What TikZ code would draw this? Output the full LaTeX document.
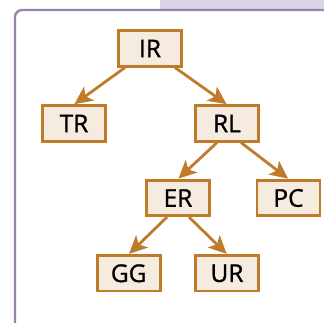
\documentclass[tikz,border=0pt]{standalone}
\usepackage{fontspec}
\setmainfont{Open Sans}
\newfontfamily\boxfont{Open Sans}[RawFeature={embolden=1}]
\usetikzlibrary{arrows.meta}
\definecolor{framepurple}{HTML}{9A82B0}
\definecolor{tabpurple}{HTML}{DDD1E6}
\definecolor{boxedge}{HTML}{BF7A2A}
\definecolor{boxfill}{HTML}{F5EBDF}
\tikzset{
  treebox/.style={draw=boxedge, fill=boxfill, line width=2.6pt,
    minimum width=63pt, minimum height=35.5pt, inner sep=0pt,
    font=\boxfont\fontsize{24.5}{28}\selectfont},
  treearrow/.style={draw=boxedge, line width=2.8pt, shorten >=0.5pt,
    -{Stealth[length=18pt,width=17pt,inset=4.5pt]}}
}
\begin{document}
\begin{tikzpicture}[x=1pt,y=-1pt]
\useasboundingbox (0,0) rectangle (324,322);
% tab and panel frame
\fill[tabpurple] (160,0) rectangle (324,9);
\begin{scope}
\clip (0,0) rectangle (324,322);
\draw[framepurple, line width=2.4pt, rounded corners=7pt] (15,340) -- (15,10) -- (340,10);
\end{scope}
% tree nodes
\node[treebox] (IR) at (150,48.5) {IR};
\node[treebox] (TR) at (74,123.5) {TR};
\node[treebox] (RL) at (227,123.5) {RL};
\node[treebox] (ER) at (178,198) {ER};
\node[treebox] (PC) at (288.5,198) {PC};
\node[treebox] (GG) at (128.7,273.3) {GG};
\node[treebox] (UR) at (227,273.3) {UR};
% connectors
\draw[treearrow] ([xshift=-25pt]IR.south) -- (TR.north);
\draw[treearrow] ([xshift=25pt]IR.south) -- (RL.north);
\draw[treearrow] ([xshift=-10pt]RL.south) -- (ER.north);
\draw[treearrow] ([xshift=14pt]RL.south) -- (PC.north);
\draw[treearrow] ([xshift=-11pt]ER.south) -- (GG.north);
\draw[treearrow] ([xshift=11pt]ER.south) -- (UR.north);
\end{tikzpicture}
\end{document}
